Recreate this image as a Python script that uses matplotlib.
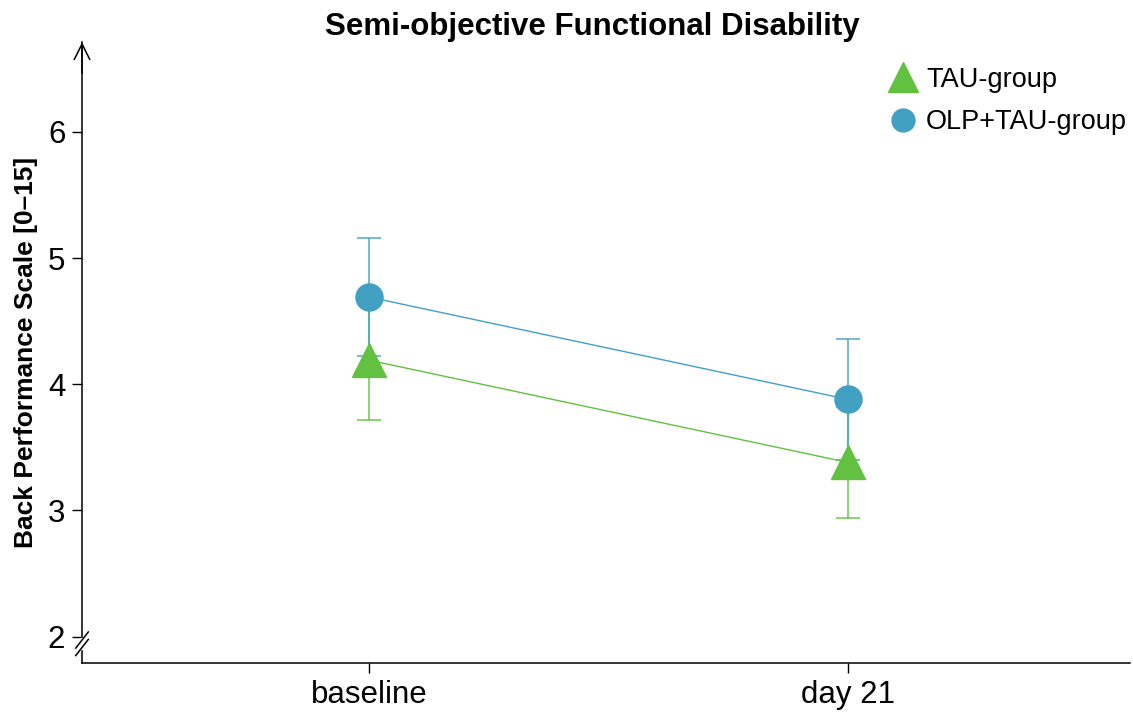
import matplotlib
matplotlib.use("Agg")
import matplotlib.pyplot as plt
import numpy as np

plt.rcParams['font.family'] = ['Liberation Sans', 'DejaVu Sans']

timepoints = ["baseline", "day 21"]
tau_mean = [4.19, 3.38]
tau_err = [0.47, 0.44]
olp_mean = [4.69, 3.88]
olp_err = [0.47, 0.48]
yticks = [2, 3, 4, 5, 6]

green = '#62C140'
blue = '#42A0C3'

fig = plt.figure(figsize=(11.33, 7.16), dpi=100)
ax = fig.add_axes([0.0724, 0.074, 0.925, 0.867])
x = np.arange(1, len(timepoints) + 1)

ax.errorbar(x, tau_mean, yerr=tau_err, fmt='none', ecolor=green, alpha=0.7,
            elinewidth=1.5, capsize=8.5, capthick=1.5, zorder=2)
ax.errorbar(x, olp_mean, yerr=olp_err, fmt='none', ecolor=blue, alpha=0.7,
            elinewidth=1.5, capsize=8.5, capthick=1.5, zorder=2)
ax.plot(x, olp_mean, color=blue, lw=1, zorder=3)
ax.plot(x, tau_mean, color=green, lw=1, zorder=3)
ax.plot(x, olp_mean, 'o', color=blue, markersize=19.5, zorder=4)
ax.plot(x, tau_mean, '^', color=green, markersize=25, zorder=5)

h1 = ax.plot([], [], '^', color=green, markersize=21, label='TAU-group')[0]
h2 = ax.plot([], [], 'o', color=blue, markersize=16.5, label='OLP+TAU-group')[0]
leg = ax.legend(handles=[h1, h2], loc='upper right', frameon=False, fontsize=19.5,
                handletextpad=0.05, borderaxespad=0.0, labelspacing=0.6,
                handlelength=1.6, bbox_to_anchor=(1.0075, 0.978))

ax.set_xlim(0.40, 2.59)
ax.set_ylim(1.79, 6.71)
ax.set_xticks(x)
ax.set_xticklabels(timepoints, fontsize=22.5)
ax.set_yticks(yticks)
ax.set_yticklabels([str(t) for t in yticks], fontsize=22.5)
ax.tick_params(axis='both', direction='out', length=7, width=1, pad=5)

for s in ['top', 'right']:
    ax.spines[s].set_visible(False)
ax.spines['left'].set_linewidth(1.1)
ax.spines['bottom'].set_linewidth(1.1)

# arrow at top of y axis
ax.annotate('', xy=(0, 1.0), xycoords='axes fraction', xytext=(0, 0.95),
            arrowprops=dict(arrowstyle='->', lw=1.1, color='black',
                            mutation_scale=28, shrinkA=0, shrinkB=0))

# axis break marks
ax.plot([0, 0], [0.024, 0.038], transform=ax.transAxes, color='white', lw=2.5,
        clip_on=False, zorder=10)
for dy in [0.0, 0.012]:
    ax.plot([-0.006, 0.006], [0.012 + dy, 0.038 + dy], transform=ax.transAxes,
            color='black', lw=1.1, clip_on=False, zorder=11)

ax.set_ylabel('Back Performance Scale [0\u201315]', fontsize=19, fontweight='bold')
ax.yaxis.set_label_coords(-0.042, 0.5)
fig.text(0.5225, 0.962, 'Semi-objective Functional Disability', ha='center', va='center',
         fontsize=22.5, fontweight='bold')

fig.savefig('out.png', dpi=100)
